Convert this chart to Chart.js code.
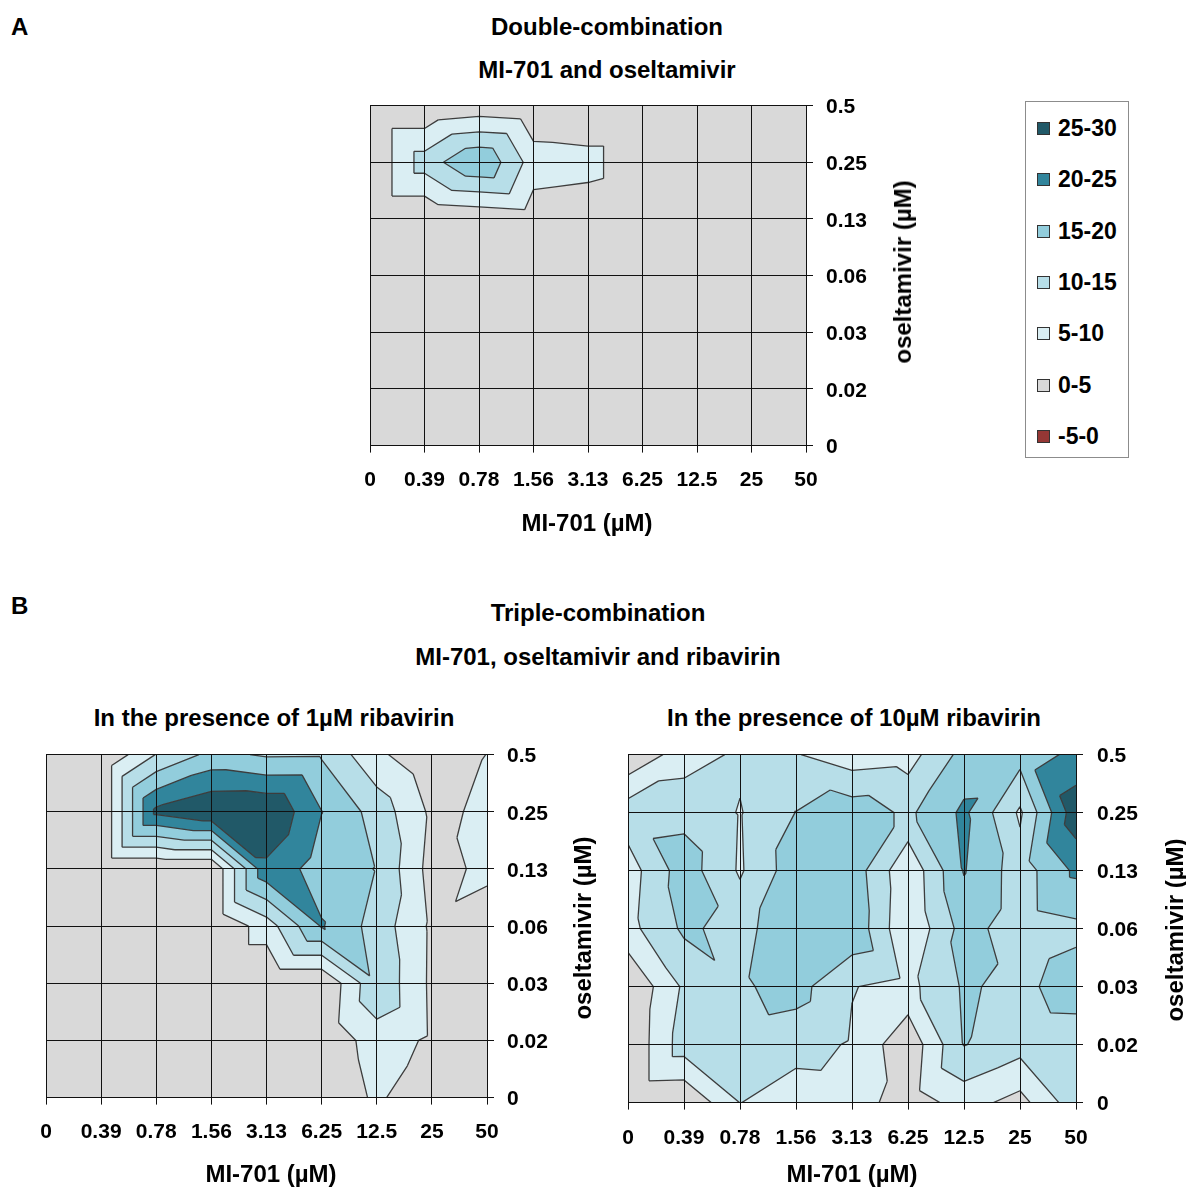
<!DOCTYPE html>
<html>
<head>
<meta charset="utf-8">
<title>MI-701 combinations</title>
<script src="https://cdn.jsdelivr.net/npm/chart.js@4.4.1/dist/chart.umd.min.js"></script>
<style>
  body { margin: 0; background: #fff; }
  #page { position: relative; width: 1186px; height: 1188px; overflow: hidden; font-family: 'Liberation Sans', Arial, sans-serif; color: #000; }
  .t { position: absolute; white-space: nowrap; transform: translate(-50%, -50%); font-weight: bold; font-size: 24px; line-height: 1; }
  .t.rot { transform: translate(-50%, -50%) rotate(-90deg); }
  .panel { position: absolute; font-weight: bold; font-size: 24px; line-height: 1; }
  canvas { position: absolute; }
  #legend { position: absolute; left: 1025px; top: 101px; width: 102px; height: 355px; border: 1px solid #8c8c8c; }
  .key { position: absolute; left: 11px; height: 24px; display: flex; align-items: center; font-weight: bold; font-size: 23px; }
  .key i { display: inline-block; width: 11px; height: 11px; border: 1px solid #333; margin-right: 8px; }
</style>
</head>
<body>
<div id="page">
  <div class="panel" style="left:11px;top:15px">A</div>
  <div class="t" style="left:607px;top:27px">Double-combination</div>
  <div class="t" style="left:607px;top:70px">MI-701 and oseltamivir</div>
  <canvas id="chartA" width="560" height="440" style="left:340px;top:90px"></canvas>
  <div class="t" style="left:587px;top:523px">MI-701 (µM)</div>
  <div class="t rot" style="left:903px;top:272px">oseltamivir (µM)</div>
  <div id="legend"></div>

  <div class="panel" style="left:11px;top:594px">B</div>
  <div class="t" style="left:598px;top:613px">Triple-combination</div>
  <div class="t" style="left:598px;top:657px">MI-701, oseltamivir and ribavirin</div>

  <div class="t" style="left:274px;top:718px">In the presence of 1µM ribavirin</div>
  <canvas id="chartB1" width="560" height="450" style="left:16px;top:739px"></canvas>
  <div class="t" style="left:271px;top:1174px">MI-701 (µM)</div>
  <div class="t rot" style="left:583px;top:928px">oseltamivir (µM)</div>

  <div class="t" style="left:854px;top:718px">In the presence of 10µM ribavirin</div>
  <canvas id="chartB2" width="560" height="450" style="left:598px;top:739px"></canvas>
  <div class="t" style="left:852px;top:1174px">MI-701 (µM)</div>
  <div class="t rot" style="left:1175px;top:930px">oseltamivir (µM)</div>
</div>

<script>
// ===== Synergy contour plots (MI-701 x oseltamivir, +/- ribavirin) =====

var mi701Labels = ['0', '0.39', '0.78', '1.56', '3.13', '6.25', '12.5', '25', '50'];
var oseltamivirLabels = ['0', '0.02', '0.03', '0.06', '0.13', '0.25', '0.5'];

// Synergy bands, lowest first
var bandLabels = ['-5-0', '0-5', '5-10', '10-15', '15-20', '20-25', '25-30'];
var bandFloors = [-5, 0, 5, 10, 15, 20, 25];
var bandColors = ['#953735', '#d9d9d9', '#daeef3', '#b7dee8', '#92cddc', '#31859c', '#215968'];

// Synergy volumes. Each row is one oseltamivir dose, from 0.5 (top) down to 0,
// each column one MI-701 dose in mi701Labels order.
var doubleCombo = [
    [0, 0, 1.5, 0.4, 0, 0, 0, 0, 0],
    [0, 12.4, 19.9, 7.7, 7.0, 0, 0, 0, 0],
    [0, 0, 1, 2.1, 1.4, 0, 0, 0, 0],
    [0, 0, 0, 0, 0, 0, 0, 0, 0],
    [0, 0, 0, 0, 0, 0, 0, 0, 0],
    [0, 0, 0, 0, 0, 0, 0, 0, 0],
    [0, 0, 0, 0, 0, 0, 0, 0, 0]
];

var tripleRiba1 = [
    [0, 0, 10.2, 16.4, 14.4, 14.5, 6.1, 0.9, 5.1],
    [0, 0, 26.3, 29.8, 30, 20.1, 13, 4, 5.75],
    [0, 0, 0, 0, 23.8, 17.5, 14.8, 3, 6.2],
    [0, 0, 0, 0, 7.4, 20.4, 12.9, 4.1, 2.2],
    [0, 0, 0, 0, 0, 0, 14.2, 4, 2],
    [0, 0, 0, 0, 0, 0.9, 7.5, 4.2, 1],
    [0, 0, 0, 0, 0, 0, 6, 0.4, 0]
];

var tripleRiba10 = [
    [0.7, 7.6, 10.9, 10.3, 7, 7.9, 16.7, 17, 21.3],
    [12.9, 13.5, 9.7, 15.1, 18, 14, 21, 9.2, 28.3],
    [7.6, 17.6, 9.4, 18, 18, 6, 20.3, 12.4, 21],
    [8.35, 15.85, 13.35, 18.7, 19, 5.5, 17, 12.3, 13.8],
    [0.2, 10.8, 14.3, 16.9, 10.2, 8.5, 15.6, 13.7, 17.5],
    [0.5, 12.5, 13, 12, 9.5, 1.3, 15.2, 12, 12.2],
    [0.5, 0.2, 10.1, 7.1, 7.5, 2.35, 7, 3.2, 13]
];

var FONT = "'Liberation Sans', Arial, sans-serif";

// grid rows -> scatter points, y counted from the bottom row
function gridPoints(rows) {
    var pts = [];
    for (var r = 0; r < rows.length; r++) {
        for (var c = 0; c < rows[r].length; c++) {
            pts.push({ x: c, y: rows.length - 1 - r, v: rows[r][c] });
        }
    }
    return pts;
}

// Sutherland-Hodgman against a value threshold (v >= level, or v < level)
function clipPoly(pts, level, above) {
    var out = [];
    for (var i = 0; i < pts.length; i++) {
        var a = pts[i], b = pts[(i + 1) % pts.length];
        var ain = above ? a.v >= level : a.v < level;
        var bin = above ? b.v >= level : b.v < level;
        if (ain) out.push(a);
        if (ain !== bin) {
            var t = (level - a.v) / (b.v - a.v);
            out.push({ x: a.x + t * (b.x - a.x), y: a.y + t * (b.y - a.y), v: level });
        }
    }
    return out;
}

// Filled contour bands, each grid cell split in two triangles along the
// diagonal with the larger sum, linear inside each triangle
var contourPlugin = {
    id: 'contourBands',
    beforeDatasetsDraw: function(chart) {
        var pts = chart.data.datasets[0].data;
        var xs = chart.scales.x, ys = chart.scales.y;
        var at = {};
        for (var i = 0; i < pts.length; i++) {
            var p = pts[i];
            at[p.x + ',' + p.y] = { x: xs.getPixelForValue(p.x), y: ys.getPixelForValue(p.y), v: p.v };
        }
        var tris = [];
        for (var c = 0; c < mi701Labels.length - 1; c++) {
            for (var r = 0; r < oseltamivirLabels.length - 1; r++) {
                var bl = at[c + ',' + r], br = at[(c + 1) + ',' + r];
                var tl = at[c + ',' + (r + 1)], tr = at[(c + 1) + ',' + (r + 1)];
                if (tl.v + br.v >= tr.v + bl.v) {
                    tris.push([tl, tr, br], [tl, br, bl]);
                } else {
                    tris.push([tl, tr, bl], [tr, br, bl]);
                }
            }
        }

        var ctx = chart.ctx, area = chart.chartArea;
        ctx.save();
        ctx.beginPath();
        ctx.rect(area.left, area.top, area.right - area.left, area.bottom - area.top);
        ctx.clip();

        for (var b = 0; b < bandFloors.length; b++) {
            var lo = b === 0 ? -Infinity : bandFloors[b];
            var hi = b === bandFloors.length - 1 ? Infinity : bandFloors[b + 1];
            ctx.beginPath();
            for (var k = 0; k < tris.length; k++) {
                var poly = clipPoly(clipPoly(tris[k], lo, true), hi, false);
                if (poly.length < 3) continue;
                ctx.moveTo(poly[0].x, poly[0].y);
                for (var m = 1; m < poly.length; m++) ctx.lineTo(poly[m].x, poly[m].y);
                ctx.closePath();
            }
            ctx.fillStyle = bandColors[b];
            ctx.fill();
        }

        // iso-lines at each band floor
        ctx.beginPath();
        for (var l = 1; l < bandFloors.length; l++) {
            var L = bandFloors[l];
            for (var k2 = 0; k2 < tris.length; k2++) {
                var t3 = tris[k2], cut = [];
                for (var e = 0; e < 3; e++) {
                    var p0 = t3[e], p1 = t3[(e + 1) % 3];
                    if ((p0.v >= L) !== (p1.v >= L)) {
                        var s = (L - p0.v) / (p1.v - p0.v);
                        cut.push([p0.x + s * (p1.x - p0.x), p0.y + s * (p1.y - p0.y)]);
                    }
                }
                if (cut.length === 2) {
                    ctx.moveTo(cut[0][0], cut[0][1]);
                    ctx.lineTo(cut[1][0], cut[1][1]);
                }
            }
        }
        ctx.strokeStyle = '#3d3d3d';
        ctx.lineWidth = 1.3;
        ctx.lineJoin = 'round';
        ctx.stroke();
        ctx.restore();
    }
};

function makeChart(id, rows, geo) {
    var tickFont = { family: FONT, size: 21, weight: 'bold' };
    return new Chart(document.getElementById(id), {
        type: 'scatter',
        data: { datasets: [{ data: gridPoints(rows), pointRadius: 0, pointHoverRadius: 0, showLine: false }] },
        options: {
            responsive: false,
            animation: false,
            events: [],
            layout: { padding: { left: 30, top: 16, right: 0, bottom: 0 } },
            plugins: { legend: { display: false }, tooltip: { enabled: false } },
            scales: {
                x: {
                    type: 'linear', position: 'bottom', min: 0, max: mi701Labels.length - 1,
                    afterFit: function(s) { s.height = geo.xh; },
                    ticks: {
                        stepSize: 1, autoSkip: false, maxRotation: 0, color: '#000', font: tickFont, padding: geo.xpad,
                        callback: function(v) { return mi701Labels[v]; }
                    },
                    grid: { color: '#111', lineWidth: 1, tickLength: 7, z: 1 },
                    border: { color: '#111', z: 1 }
                },
                y: {
                    type: 'linear', position: 'right', min: 0, max: oseltamivirLabels.length - 1,
                    afterFit: function(s) { s.width = geo.yw; },
                    ticks: {
                        stepSize: 1, autoSkip: false, color: '#000', font: tickFont, padding: geo.ypad, labelOffset: 2,
                        callback: function(v) { return oseltamivirLabels[v]; }
                    },
                    grid: { color: '#111', lineWidth: 1, tickLength: 7, z: 1 },
                    border: { color: '#111', z: 1 }
                }
            }
        },
        plugins: [contourPlugin]
    });
}

// move the canvas and resize the axis boxes so the plot area lands on the given box
function pinPlotArea(chart, geo, box) {
    var a = chart.chartArea, cv = chart.canvas;
    cv.style.left = (box.left - a.left) + 'px';
    cv.style.top = (box.top - a.top) + 'px';
    geo.xh = cv.height - a.top - box.height;
    geo.yw = cv.width - a.left - box.width;
    chart.update();
}

function buildLegend() {
    var box = document.getElementById('legend');
    var html = '';
    for (var i = bandLabels.length - 1, n = 0; i >= 0; i--, n++) {
        var top = Math.round(26 + n * 51.3 - 12);
        html += '<div class="key" style="top:' + top + 'px"><i style="background:' + bandColors[i] + '"></i>' + bandLabels[i] + '</div>';
    }
    box.innerHTML = html;
}

buildLegend();

var geoA = { xh: 60, yw: 94, xpad: 15, ypad: 13 };
var geoB1 = { xh: 60, yw: 89, xpad: 15, ypad: 13 };
var geoB2 = { xh: 60, yw: 82, xpad: 16, ypad: 14 };
pinPlotArea(makeChart('chartA', doubleCombo, geoA), geoA, { left: 370, top: 106, width: 436, height: 340 });
pinPlotArea(makeChart('chartB1', tripleRiba1, geoB1), geoB1, { left: 46, top: 755, width: 441, height: 343 });
pinPlotArea(makeChart('chartB2', tripleRiba10, geoB2), geoB2, { left: 628, top: 755, width: 448, height: 348 });
</script>
</body>
</html>
